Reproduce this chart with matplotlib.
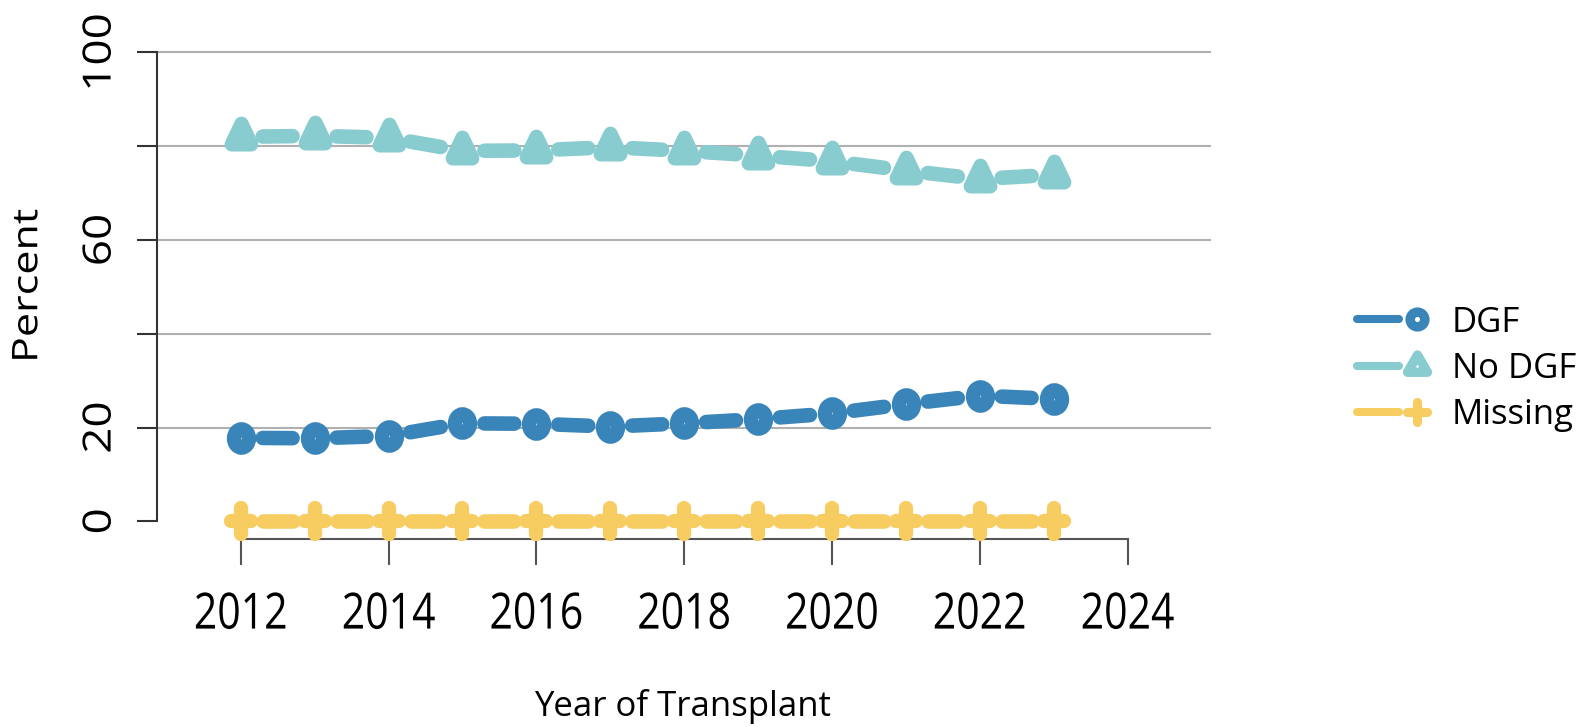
import numpy as np
import matplotlib
matplotlib.use("Agg")
import matplotlib.pyplot as plt
from matplotlib.path import Path
from matplotlib.markers import MarkerStyle
from matplotlib.lines import Line2D
from matplotlib.collections import LineCollection
from matplotlib.legend_handler import HandlerLine2D
from matplotlib.patheffects import AbstractPathEffect
from matplotlib.transforms import Affine2D

plt.rcParams['font.family'] = ['Open Sans', 'DejaVu Sans']

# percent of transplants by delayed graft function status
years = np.arange(2012, 2024)
dgf = [17.8, 17.7, 18.2, 20.9, 20.8, 20.2, 20.9, 21.8, 23.0, 25.0, 26.8, 26.1]
no_dgf = [82.0, 82.2, 81.8, 79.0, 79.1, 79.8, 79.0, 78.0, 76.8, 74.8, 73.0, 73.9]
missing = [0, 0, 0, 0, 0, 0, 0, 0, 0, 0, 0, 0]

labels = ['DGF', 'No DGF', 'Missing']
colors = ['#3985b9', '#88ccd0', '#f7cd62']

y_ticks = [0, 20, 40, 60, 80, 100]
y_ticklabels = ['0', '20', '', '60', '', '100']
x_ticks = [2012, 2014, 2016, 2018, 2020, 2022, 2024]
grid_levels = [20, 40, 60, 80, 100]

SQ = 0.82  # horizontal squeeze of the plotting area


class Squeeze(AbstractPathEffect):
    """scale text glyphs in their own frame (x about centre, y about baseline)"""
    def __init__(self, sx=1.0, sy=1.0):
        super().__init__()
        self.sx = sx
        self.sy = sy

    def draw_path(self, renderer, gc, tpath, affine, rgbFace=None):
        ext = tpath.get_extents()
        cx = (ext.x0 + ext.x1) / 2
        pre = Affine2D().translate(-cx, 0).scale(self.sx, self.sy).translate(cx, 0)
        super().draw_path(renderer, gc, tpath, pre + affine, rgbFace)


def ellipse(sx):
    c = Path.unit_circle()
    return Path(c.vertices * [sx, 1], c.codes)


def triangle(sx):
    h = 0.866 * sx
    return Path([(0, 1), (h, -0.5), (-h, -0.5), (0, 0)],
                [Path.MOVETO, Path.LINETO, Path.LINETO, Path.CLOSEPOLY])


def plus(sx):
    return Path([(-sx, 0), (sx, 0), (0, -1), (0, 1)],
                [Path.MOVETO, Path.LINETO, Path.MOVETO, Path.LINETO])


def marker(path, fill='none'):
    return MarkerStyle(path, fillstyle=fill, capstyle='round', joinstyle='round')


def gapped_segments(ax, xs, ys, gap):
    # segments between points, pulled back by `gap` pixels at each end
    pts = ax.transData.transform(np.column_stack([xs, ys]))
    inv = ax.transData.inverted()
    segs = []
    for p0, p1 in zip(pts[:-1], pts[1:]):
        d = p1 - p0
        L = np.hypot(*d)
        if L <= 2 * gap:
            continue
        u = d / L
        segs.append(inv.transform([p0 + u * gap, p1 - u * gap]))
    return segs


class LineThenMarker(HandlerLine2D):
    def create_artists(self, legend, orig_handle, xdescent, ydescent,
                       width, height, fontsize, trans):
        y = height / 2 - ydescent
        line = Line2D([0.06 * width - xdescent, 0.64 * width - xdescent], [y, y],
                      color=orig_handle.get_color(), lw=orig_handle.get_linewidth(),
                      solid_capstyle='round')
        mark = Line2D([0.9 * width - xdescent], [y])
        mark.update_from(orig_handle)
        mark.set_linestyle('none')
        line.set_transform(trans)
        mark.set_transform(trans)
        return [line, mark]


W, H = 1581, 727
fig = plt.figure(figsize=(W / 100, H / 100), dpi=100)
left, right, bottom, top = 157, 1211, 539, 30
ax = fig.add_axes([left / W, 1 - bottom / H, (right - left) / W, (bottom - top) / H])

px_year = 73.9
px_unit = 4.689
ax.set_xlim(2012 - (240.7 - left) / px_year, 2012 + (right - 240.7) / px_year)
ax.set_ylim(-(bottom - 521.3) / px_unit, 100 + (52.4 - top) / px_unit)

for s in ['top', 'right']:
    ax.spines[s].set_visible(False)
ax.spines['left'].set_bounds(0, 100)
ax.spines['left'].set_color('#333333')
ax.spines['left'].set_linewidth(1.5)
ax.spines['bottom'].set_bounds(2012, 2024)
ax.spines['bottom'].set_color('#555555')
ax.spines['bottom'].set_linewidth(1.5)

for g in grid_levels:
    ax.axhline(g, color='#b0b0b0', lw=1.5, zorder=0)

ax.set_yticks(y_ticks)
ax.set_yticklabels(y_ticklabels, rotation=90, va='center', fontsize=33)
ax.tick_params(axis='y', length=14.5, width=1.5, color='#333333', pad=11)
for t in ax.get_yticklabels():
    t.set_path_effects([Squeeze(1, 0.85)])

ax.set_xticks(x_ticks)
ax.set_xticklabels([str(x) for x in x_ticks], fontsize=36)
ax.tick_params(axis='x', length=18.5, width=1.5, color='#555555', pad=19)
for t in ax.get_xticklabels():
    t.set_path_effects([Squeeze(SQ, 1)])

ax.set_xlabel('Year of Transplant', fontsize=25, va='baseline')
ax.xaxis.set_label_coords((682.5 - left) / (right - left), -(716 - bottom) / (bottom - top))
ax.set_ylabel('Percent', fontsize=31, va='center')
ax.yaxis.set_label_coords((26 - left) / (right - left), (bottom - 286) / (bottom - top))
ax.yaxis.label.set_path_effects([Squeeze(1, SQ)])

series = [dgf, no_dgf, missing]
# triangles are filled: the thick outline leaves no hole at this size
plot_markers = [marker(ellipse(SQ)), marker(triangle(SQ), 'full'), marker(plus(SQ))]
plot_ms = [13.2, 19.8, 18.3]
plot_mew = [10.3, 10.3, 10.3]
legend_markers = [marker(ellipse(1)), marker(triangle(1)), marker(plus(1))]
legend_ms = [10.6, 16.5, 15.0]
legend_mew = [6.8, 6.8, 6.6]

handles = []
for vals, col, mk, ms, mew, lmk, lms, lmew in zip(series, colors, plot_markers, plot_ms, plot_mew,
                                                   legend_markers, legend_ms, legend_mew):
    segs = gapped_segments(ax, years, vals, 22)
    ax.add_collection(LineCollection(segs, colors=col, linewidths=10.5, capstyle='round',
                                     zorder=2))
    ax.plot(years, vals, linestyle='none', marker=mk, markersize=ms, markeredgewidth=mew,
            color=col, mec=col, mfc=col if mk.is_filled() else 'none', zorder=3, clip_on=False)
    handles.append(Line2D([], [], color=col, lw=5.8, marker=lmk, markersize=lms,
                          markeredgewidth=lmew, mfc='none'))

fig.legend(handles, labels, handler_map={Line2D: LineThenMarker()},
           loc='center left', bbox_to_anchor=(1353 / W, 1 - 369 / H),
           frameon=False, fontsize=25, handlelength=2.05, handletextpad=0.8,
           labelspacing=0.36, borderpad=0, borderaxespad=0)

fig.savefig('out.png', dpi=100)
